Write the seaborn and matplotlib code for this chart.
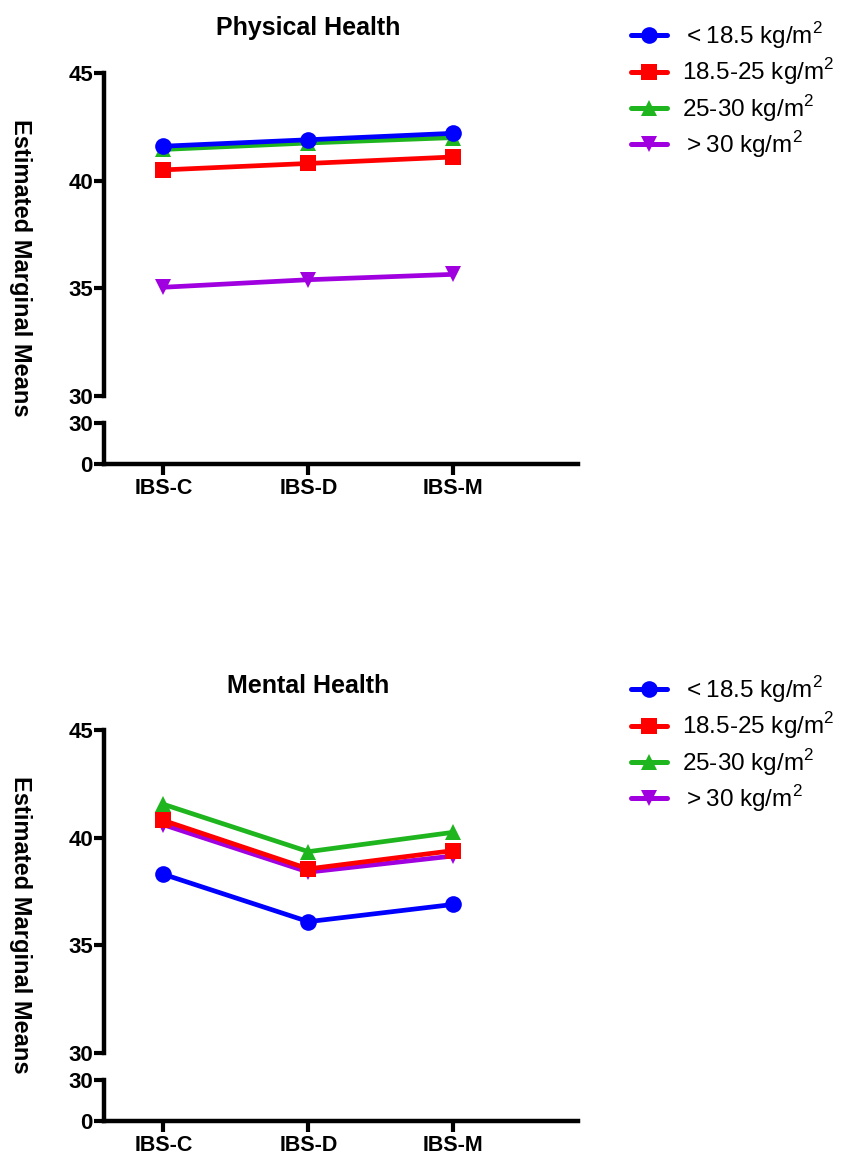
""" Estimated marginal means by IBS subtype and BMI group """
import pandas as pd
import seaborn as sns
import matplotlib.pyplot as plt
from matplotlib.lines import Line2D

# IBS subtypes on the x axis
groups = ["IBS-C", "IBS-D", "IBS-M"]

# BMI categories (legend labels)
bmi_labels = [
    r"$<$18.5 kg/m$^2$",
    "18.5-25 kg/m$^2$",
    "25-30 kg/m$^2$",
    r"$>$30 kg/m$^2$",
]

# Physical health means
phys_under = [41.6, 41.9, 42.2]
phys_normal = [40.5, 40.8, 41.1]
phys_over = [41.45, 41.75, 42.0]
phys_obese = [35.05, 35.4, 35.65]

# Mental health means
ment_under = [38.3, 36.1, 36.9]
ment_normal = [40.8, 38.55, 39.4]
ment_over = [41.55, 39.35, 40.25]
ment_obese = [40.6, 38.4, 39.15]

colors = ["#0000ff", "#ff0000", "#1fb51f", "#a000e0"]
markers = ["o", "s", "^", "v"]
draw_order = [3, 2, 1, 0]

sns.set_style("ticks")
plt.rcParams["font.family"] = ["Liberation Sans", "DejaVu Sans"]
plt.rcParams["mathtext.fontset"] = "custom"
plt.rcParams["mathtext.rm"] = "Liberation Sans"
for k in ("text.color", "axes.edgecolor", "xtick.color", "ytick.color",
          "axes.labelcolor"):
    plt.rcParams[k] = "black"


def make_frame(series):
    """
    Build a long dataframe for seaborn
    """
    rows = []
    for label, vals in zip(bmi_labels, series):
        for g, v in zip(groups, vals):
            rows.append({"group": g, "value": v, "bmi": label})
    return pd.DataFrame(rows)


def draw_panel(fig, series, title, top_px, title_px, legend_px):
    """
    Draw one panel with a broken y axis (30-45 on top, 0-30 below)
    """
    W, H = fig.get_size_inches() * fig.dpi
    left, right = 104 / W, 578 / W
    up_top, up_bot = top_px, top_px + 323
    lo_top, lo_bot = up_bot + 27, up_bot + 68

    ax_up = fig.add_axes([left, 1 - up_bot / H, right - left, (up_bot - top_px) / H])
    ax_lo = fig.add_axes([left, 1 - lo_bot / H, right - left, (lo_bot - lo_top) / H])

    df = make_frame(series)
    for i in draw_order:
        sub = df[df["bmi"] == bmi_labels[i]]
        sns.lineplot(
            data=sub, x="group", y="value", ax=ax_up, color=colors[i],
            marker=markers[i], markersize=12, markeredgewidth=0,
            linewidth=3.4, sort=False, legend=False,
        )

    for ax in (ax_up, ax_lo):
        ax.set_xlim(-0.41, 2.86)
        ax.set_xlabel("")
        ax.set_ylabel("")
        for s in ("top", "right"):
            ax.spines[s].set_visible(False)
        ax.spines["left"].set_linewidth(3.2)
        ax.spines["bottom"].set_linewidth(3.2)
        ax.tick_params(width=3, length=7, pad=1, labelsize=16)

    ax_up.set_ylim(30, 45)
    ax_up.set_yticks([30, 35, 40, 45])
    ax_up.spines["bottom"].set_visible(False)
    ax_up.tick_params(axis="x", bottom=False, labelbottom=False)

    ax_lo.set_ylim(0, 30)
    ax_lo.set_yticks([0, 30])
    ax_lo.set_xticks(range(len(groups)))
    ax_lo.set_xticklabels(groups)
    ax_lo.tick_params(axis="x", labelsize=15.5, length=8, pad=2)
    for ax in (ax_up, ax_lo):
        for t in ax.get_yticklabels() + ax.get_xticklabels():
            t.set_fontweight("bold")

    fig.text(308 / W, 1 - title_px / H, title, ha="center", va="center",
             fontsize=18, fontweight="bold")
    fig.text(20 / W, 1 - (up_top + 195) / H, "Estimated Marginal Means",
             rotation=270, ha="center", va="center", fontsize=17, fontweight="bold")

    handles = [
        Line2D([], [], color=colors[i], marker=markers[i], markersize=12,
               markeredgewidth=0, linewidth=3.6)
        for i in range(4)
    ]
    fig.legend(handles, bmi_labels, loc="upper left",
               bbox_to_anchor=(621 / W, 1 - legend_px / H), frameon=False,
               fontsize=17.5, handlelength=1.5, labelspacing=0.23, handletextpad=0.6,
               borderaxespad=0)


fig = plt.figure(figsize=(8.41, 11.56), dpi=100)
draw_panel(fig, [phys_under, phys_normal, phys_over, phys_obese],
           "Physical Health", 73, 28, 10)
draw_panel(fig, [ment_under, ment_normal, ment_over, ment_obese],
           "Mental Health", 730, 686, 664)
fig.savefig("out.png", dpi=100)
